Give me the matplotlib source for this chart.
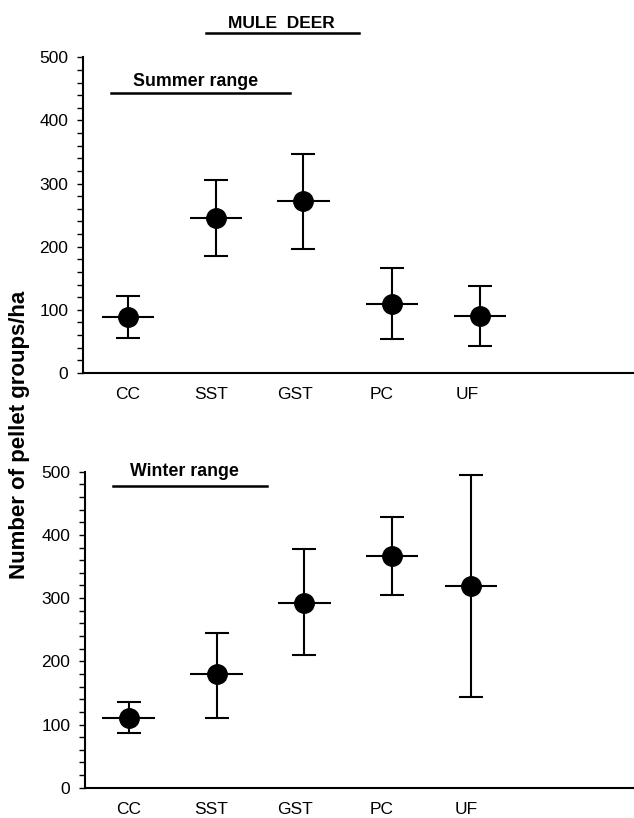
import matplotlib.pyplot as plt
from matplotlib.ticker import MultipleLocator

plt.rcParams['font.family'] = ['Liberation Sans', 'DejaVu Sans']

categories = ['CC', 'SST', 'GST', 'PC', 'UF']

summer_mean = [89, 246, 272, 110, 91]
summer_low = [56, 186, 196, 54, 43]
summer_high = [122, 306, 347, 167, 138]

winter_mean = [111, 180, 293, 367, 319]
winter_low = [86, 111, 210, 305, 143]
winter_high = [135, 244, 377, 429, 494]

point_x_top = [0, 1, 1.99, 3, 4]
point_x_bottom = [0, 1, 2, 3, 3.9]
label_x = [0, 0.94, 1.9, 2.88, 3.85]

fig = plt.figure(figsize=(6.34, 8.18), dpi=100)
ax1 = fig.add_axes([0.131, 0.544, 0.869, 0.386])
ax2 = fig.add_axes([0.134, 0.037, 0.866, 0.3864])


def panel(ax, xs, mean, low, high, left):
    yerr = [[m - l for m, l in zip(mean, low)], [h - m for m, h in zip(mean, high)]]
    ax.errorbar(xs, mean, yerr=yerr, fmt='none', ecolor='black', elinewidth=1.5,
                capsize=8.3, capthick=1.5)
    ax.errorbar(xs, mean, xerr=0.3, fmt='o', color='black', ms=14, elinewidth=1.5,
                capsize=0)
    ax.set_ylim(0, 500)
    ax.set_xlim(left, left + 6.26)
    ax.yaxis.set_major_locator(MultipleLocator(100))
    ax.yaxis.set_minor_locator(MultipleLocator(20))
    ax.set_xticks(label_x)
    ax.set_xticklabels(categories, fontsize=12.5)
    ax.tick_params(axis='x', length=0, pad=10)
    ax.tick_params(axis='y', which='both', length=4.5, width=1, direction='out', labelsize=12.5, pad=6)
    for s in ['top', 'right']:
        ax.spines[s].set_visible(False)
    for s in ['left', 'bottom']:
        ax.spines[s].set_linewidth(1.5)


panel(ax1, point_x_top, summer_mean, summer_low, summer_high, -0.511)
panel(ax2, point_x_bottom, winter_mean, winter_low, winter_high, -0.5)

ax1.plot([-0.19, 1.84], [443.5, 443.5], color='black', lw=1.8, clip_on=False)
ax1.text(0.77, 462, 'Summer range', ha='center', va='center', fontsize=12.8, fontweight='bold')
ax1.plot([0.886, 2.625], [538, 538], color='black', lw=1.8, clip_on=False)
ax1.text(1.74, 554, 'MULE  DEER', ha='center', va='center', fontsize=12.5, fontweight='bold')

ax2.plot([-0.18, 1.58], [477, 477], color='black', lw=1.8, clip_on=False)
ax2.text(0.63, 500, 'Winter range', ha='center', va='center', fontsize=12.8, fontweight='bold')

fig.text(0.031, 0.468, 'Number of pellet groups/ha', rotation=90, ha='center', va='center',
         fontsize=16, fontweight='bold')

fig.savefig('out.png', dpi=100)
